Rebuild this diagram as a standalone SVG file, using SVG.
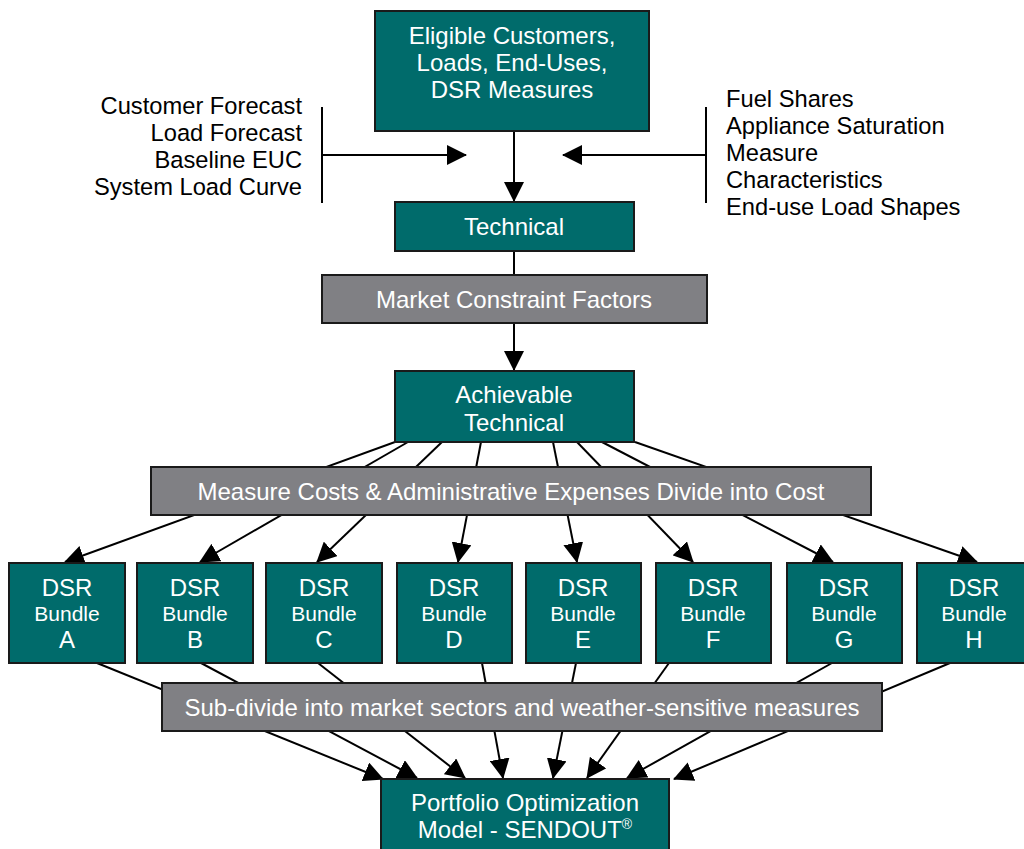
<svg xmlns="http://www.w3.org/2000/svg" width="1024" height="849" viewBox="0 0 1024 849">
<style>
.t{fill:#006B6B;stroke:#1a1a1a;stroke-width:2}
.g{fill:#808084;stroke:#1a1a1a;stroke-width:2}
.w{font-family:"Liberation Sans",Arial,sans-serif;font-size:24px;fill:#ffffff;text-anchor:middle}
.wb{font-family:"Liberation Sans",Arial,sans-serif;font-size:21px;fill:#ffffff;text-anchor:middle}
.k{font-family:"Liberation Sans",Arial,sans-serif;font-size:23.7px;fill:#000000}
.c{stroke:#000;stroke-width:2;fill:none}
.a{stroke:#000;stroke-width:2;fill:none;marker-end:url(#ah)}
</style>
<defs>
<marker id="ah" markerUnits="userSpaceOnUse" markerWidth="20" markerHeight="20" viewBox="0 0 20 20" refX="19" refY="10" orient="auto">
<path d="M0,0 L20,10 L0,20 z" fill="#000"/>
</marker>
</defs>
<rect width="1024" height="849" fill="#ffffff"/>
<g id="connectors">
<line class="a" x1="514" y1="131" x2="514" y2="201"/>
<line class="c" x1="322" y1="107" x2="322" y2="203"/>
<line class="a" x1="322" y1="155" x2="466" y2="155"/>
<line class="c" x1="706" y1="107" x2="706" y2="203"/>
<line class="a" x1="706" y1="155" x2="563" y2="155"/>
<line class="c" x1="514" y1="251" x2="514" y2="276"/>
<line class="a" x1="514" y1="323" x2="514" y2="370"/>
<line class="a" x1="395" y1="442" x2="65" y2="562"/>
<line class="a" x1="408" y1="442" x2="200" y2="562"/>
<line class="a" x1="442" y1="442" x2="317" y2="562"/>
<line class="a" x1="481" y1="442" x2="458" y2="562"/>
<line class="a" x1="553" y1="442" x2="577" y2="562"/>
<line class="a" x1="577" y1="442" x2="693" y2="562"/>
<line class="a" x1="602" y1="442" x2="833" y2="562"/>
<line class="a" x1="635" y1="442" x2="977" y2="562"/>
<line class="a" x1="97" y1="663" x2="383" y2="779"/>
<line class="a" x1="201" y1="663" x2="417" y2="778"/>
<line class="a" x1="318" y1="663" x2="465" y2="778"/>
<line class="a" x1="482" y1="663" x2="503" y2="778"/>
<line class="a" x1="576" y1="663" x2="553" y2="778"/>
<line class="a" x1="669" y1="663" x2="587" y2="778"/>
<line class="a" x1="832" y1="663" x2="627" y2="778"/>
<line class="a" x1="950" y1="663" x2="674" y2="779"/>
</g>
<g id="eligible">
<rect class="t" x="375" y="11" width="274" height="120"/>
<text class="w" x="512" y="44">Eligible Customers,</text>
<text class="w" x="512" y="71">Loads, End-Uses,</text>
<text class="w" x="512" y="98">DSR Measures</text>
</g>
<g id="left-inputs">
<text class="k" x="302" y="114" text-anchor="end">Customer Forecast</text>
<text class="k" x="302" y="141" text-anchor="end">Load Forecast</text>
<text class="k" x="302" y="168" text-anchor="end">Baseline EUC</text>
<text class="k" x="302" y="195" text-anchor="end">System Load Curve</text>
</g>
<g id="right-inputs">
<text class="k" x="726" y="107">Fuel Shares</text>
<text class="k" x="726" y="134">Appliance Saturation</text>
<text class="k" x="726" y="161">Measure</text>
<text class="k" x="726" y="188">Characteristics</text>
<text class="k" x="726" y="215">End-use Load Shapes</text>
</g>
<g id="technical">
<rect class="t" x="395" y="202" width="239" height="49"/>
<text class="w" x="514" y="235">Technical</text>
</g>
<g id="market">
<rect class="g" x="322" y="275" width="385" height="48"/>
<text class="w" x="514" y="308">Market Constraint Factors</text>
</g>
<g id="achievable">
<rect class="t" x="395" y="371" width="239" height="71"/>
<text class="w" x="514" y="403">Achievable</text>
<text class="w" x="514" y="431">Technical</text>
</g>
<g id="measure-costs">
<rect class="g" x="151" y="467" width="720" height="48"/>
<text class="w" x="511" y="500">Measure Costs &amp; Administrative Expenses Divide into Cost</text>
</g>
<g id="bundle-a">
<rect class="t" x="9" y="563" width="116" height="100"/>
<text class="w" x="67" y="596">DSR</text><text class="wb" x="67" y="621">Bundle</text><text class="w" x="67" y="648">A</text>
</g>
<g id="bundle-b">
<rect class="t" x="137" y="563" width="116" height="100"/>
<text class="w" x="195" y="596">DSR</text><text class="wb" x="195" y="621">Bundle</text><text class="w" x="195" y="648">B</text>
</g>
<g id="bundle-c">
<rect class="t" x="266" y="563" width="116" height="100"/>
<text class="w" x="324" y="596">DSR</text><text class="wb" x="324" y="621">Bundle</text><text class="w" x="324" y="648">C</text>
</g>
<g id="bundle-d">
<rect class="t" x="397" y="563" width="115" height="100"/>
<text class="w" x="454" y="596">DSR</text><text class="wb" x="454" y="621">Bundle</text><text class="w" x="454" y="648">D</text>
</g>
<g id="bundle-e">
<rect class="t" x="526" y="563" width="115" height="100"/>
<text class="w" x="583" y="596">DSR</text><text class="wb" x="583" y="621">Bundle</text><text class="w" x="583" y="648">E</text>
</g>
<g id="bundle-f">
<rect class="t" x="656" y="563" width="115" height="100"/>
<text class="w" x="713" y="596">DSR</text><text class="wb" x="713" y="621">Bundle</text><text class="w" x="713" y="648">F</text>
</g>
<g id="bundle-g">
<rect class="t" x="787" y="563" width="115" height="100"/>
<text class="w" x="844" y="596">DSR</text><text class="wb" x="844" y="621">Bundle</text><text class="w" x="844" y="648">G</text>
</g>
<g id="bundle-h">
<rect class="t" x="917" y="563" width="115" height="100"/>
<text class="w" x="974" y="596">DSR</text><text class="wb" x="974" y="621">Bundle</text><text class="w" x="974" y="648">H</text>
</g>
<g id="subdivide">
<rect class="g" x="162" y="683" width="720" height="48"/>
<text class="w" x="522" y="716">Sub-divide into market sectors and weather-sensitive measures</text>
</g>
<g id="portfolio">
<rect class="t" x="381" y="779" width="288" height="80"/>
<text class="w" x="525" y="811">Portfolio Optimization</text>
<text class="w" x="525" y="838">Model - SENDOUT<tspan dy="-9" style="font-size:14px">®</tspan></text>
</g>
</svg>
